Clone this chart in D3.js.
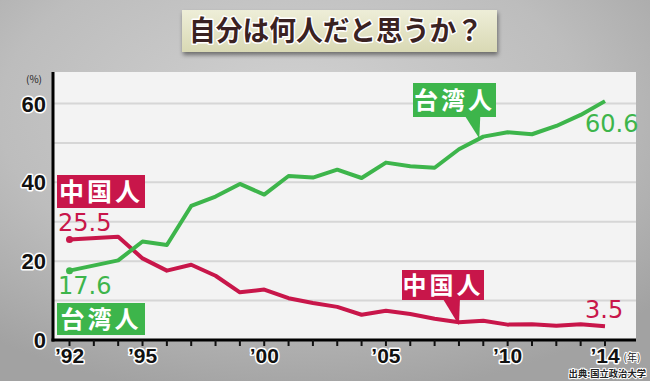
<!DOCTYPE html>
<html><head><meta charset="utf-8">
<script src="https://cdn.jsdelivr.net/npm/d3@7"></script>
<style>html,body{margin:0;padding:0;background:#b8b8b8;}svg{display:block;}</style>
</head><body>
<script>
// ---- data ----
const title = "自分は何人だと思うか？";
const years = [1992,1994,1995,1996,1997,1998,1999,2000,2001,2002,2003,2004,2005,2006,2007,2008,2009,2010,2011,2012,2013,2014];
const taiwanese = [17.6,20.2,25.0,24.1,34.0,36.4,39.6,36.9,41.6,41.2,43.2,41.1,45.0,44.1,43.7,48.4,51.6,52.7,52.2,54.3,57.1,60.6];
const chinese = [25.5,26.2,20.7,17.6,19.1,16.3,12.1,12.8,10.6,9.4,8.4,6.4,7.4,6.6,5.4,4.5,4.9,3.9,4.0,3.6,4.0,3.5];
const yTickValues = [0,20,40,60];
const gridValues = [10,20,30,40,50,60];
const xLabelYears = [1992,1995,2000,2005,2010,2014];
const xLabelTexts = ["’92","’95","’00","’05","’10","’14"];
const seriesNames = ["台湾人","中国人"];
const unitY = "(%)", unitX = "(年)", source = "出典:国立政治大学";

const W = 650, H = 381;
const GREEN = "#3db54b", RED = "#c8164a";
const panel = {left:53, right:636, top:72, bottom:340};

const x = d3.scaleLinear().domain([1992,2014]).range([69.5,605]);
const y = d3.scaleLinear().domain([0,60]).range([340,103.5]);

const svg = d3.select("body").append("svg").attr("width",W).attr("height",H);
const defs = svg.append("defs");
const bg = defs.append("radialGradient").attr("id","bg").attr("cx","45%").attr("cy","30%").attr("r","75%");
bg.append("stop").attr("offset","0%").attr("stop-color","#d2d2d2");
bg.append("stop").attr("offset","60%").attr("stop-color","#bdbdbd");
bg.append("stop").attr("offset","100%").attr("stop-color","#a2a2a2");
const tg = defs.append("linearGradient").attr("id","tg").attr("x1","0").attr("y1","0").attr("x2","0").attr("y2","1");
tg.append("stop").attr("offset","0%").attr("stop-color","#eeeed8");
tg.append("stop").attr("offset","100%").attr("stop-color","#d9d9b4");
const sh = defs.append("filter").attr("id","sh").attr("x","-10%").attr("y","-20%").attr("width","130%").attr("height","160%");
sh.append("feDropShadow").attr("dx",1).attr("dy",3).attr("stdDeviation",2).attr("flood-color","#000").attr("flood-opacity",0.45);

svg.append("rect").attr("width",W).attr("height",H).attr("fill","url(#bg)");

// title
svg.append("rect").attr("x",182).attr("y",10).attr("width",315).attr("height",42)
  .attr("fill","url(#tg)").attr("filter","url(#sh)");
svg.append("text").attr("x",336).attr("y",41).attr("text-anchor","middle")
  .attr("font-family","'Noto Sans CJK JP'").attr("font-weight",700).attr("font-size",28)
  .attr("textLength",294).attr("lengthAdjust","spacingAndGlyphs")
  .attr("fill","#3a2222").attr("stroke","#fff").attr("stroke-width",3).attr("paint-order","stroke")
  .attr("stroke-linejoin","round").text(title);

// panel
svg.append("rect").attr("x",panel.left).attr("y",panel.top).attr("width",panel.right-panel.left).attr("height",panel.bottom-panel.top)
  .attr("fill","#f3f3f3");
svg.append("g").selectAll("line").data(gridValues).join("line")
  .attr("x1",panel.left).attr("x2",panel.right).attr("y1",d=>y(d)).attr("y2",d=>y(d))
  .attr("stroke","#d6d6d6").attr("stroke-width",2);

// axes
svg.append("line").attr("x1",panel.left).attr("x2",panel.left).attr("y1",panel.top).attr("y2",panel.bottom+1.5)
  .attr("stroke","#000").attr("stroke-width",3);
svg.append("line").attr("x1",panel.left-1.5).attr("x2",panel.right).attr("y1",panel.bottom).attr("y2",panel.bottom)
  .attr("stroke","#000").attr("stroke-width",3);
svg.append("g").selectAll("line").data(d3.range(1992,2015)).join("line")
  .attr("x1",d=>x(d)).attr("x2",d=>x(d)).attr("y1",panel.bottom).attr("y2",panel.bottom+6)
  .attr("stroke","#111").attr("stroke-width",2);

const outline = s => s.attr("stroke","#fff").attr("stroke-width",3).attr("paint-order","stroke").attr("stroke-linejoin","round");

svg.append("g").selectAll("text").data(yTickValues).join("text")
  .attr("x",46).attr("y",d=>y(d)+8).attr("text-anchor","end")
  .attr("font-family","'Liberation Sans',Arial").attr("font-weight",700).attr("font-size",22)
  .attr("fill","#111").call(outline).text(d=>d);
svg.append("text").attr("x",34).attr("y",83).attr("text-anchor","middle")
  .attr("font-family","'Noto Sans CJK JP'").attr("font-size",10).attr("fill","#222").text(unitY);

svg.append("g").selectAll("text").data(xLabelYears).join("text")
  .attr("x",d=>x(d)).attr("y",363).attr("text-anchor","middle")
  .attr("font-family","'Liberation Sans',Arial").attr("font-weight",700).attr("font-size",21)
  .attr("fill","#111").call(outline).text((d,i)=>xLabelTexts[i]);
svg.append("text").attr("x",632).attr("y",361).attr("text-anchor","middle")
  .attr("font-family","'Noto Sans CJK JP'").attr("font-size",10).attr("fill","#222").call(outline).attr("stroke-width",2).text(unitX);
svg.append("text").attr("x",646).attr("y",377).attr("text-anchor","end")
  .attr("font-family","'Noto Sans CJK JP'").attr("font-weight",700).attr("font-size",9.3)
  .attr("fill","#222").call(outline).attr("stroke-width",2).text(source);

// lines
const line = d3.line().x((d,i)=>x(years[i])).y(d=>y(d)).curve(d3.curveLinear);
svg.append("path").datum(chinese).attr("d",line).attr("fill","none").attr("stroke",RED).attr("stroke-width",4).attr("stroke-linejoin","round");
svg.append("path").datum(taiwanese).attr("d",line).attr("fill","none").attr("stroke",GREEN).attr("stroke-width",4).attr("stroke-linejoin","round");
svg.append("circle").attr("cx",x(years[0])).attr("cy",y(chinese[0])).attr("r",3.5).attr("fill",RED);
svg.append("circle").attr("cx",x(years[0])).attr("cy",y(taiwanese[0])).attr("r",3.5).attr("fill",GREEN);

// label boxes
function tagBox(x0,y0,w,h,color,txt,fs){
  svg.append("rect").attr("x",x0).attr("y",y0).attr("width",w).attr("height",h).attr("fill",color);
  svg.append("text").attr("x",x0+w/2).attr("y",y0+h/2+fs*0.36).attr("text-anchor","middle")
    .attr("font-family","'Noto Sans CJK JP'").attr("font-weight",700).attr("font-size",fs)
    .attr("letter-spacing",3).attr("fill","#fff").text(txt);
}
tagBox(57,175,88,33,RED,seriesNames[1],25);
tagBox(57,303,88,32,GREEN,seriesNames[0],24);

const numFont = s => s.attr("font-family","'DejaVu Sans'").attr("font-size",24);
svg.append("text").attr("x",58).attr("y",231).attr("fill",RED).call(numFont).text(chinese[0].toFixed(1));
svg.append("text").attr("x",58).attr("y",293.5).attr("fill",GREEN).call(numFont).text(taiwanese[0].toFixed(1));
svg.append("text").attr("x",585).attr("y",132).attr("fill",GREEN).call(numFont).text(taiwanese[taiwanese.length-1].toFixed(1));
svg.append("text").attr("x",585).attr("y",318).attr("fill",RED).call(numFont).text(chinese[chinese.length-1].toFixed(1));

// callouts
function callout(x0,y0,w,h,color,txt,tipX,tipY,baseL,fs){
  svg.append("path").attr("d",`M${baseL},${y0+h-1}L${tipX+1},${y0+h-1}L${tipX},${tipY}Z`).attr("fill",color);
  tagBox(x0,y0,w,h,color,txt,fs);
}
const iT = years.indexOf(2009), iC = years.indexOf(2008);
callout(413,83,83,34,GREEN,seriesNames[0],x(2009)-4,y(taiwanese[iT])+2,465,24);
callout(402,270,82,30,RED,seriesNames[1],x(2008),y(chinese[iC])+3,443,24);
</script>
</body></html>
